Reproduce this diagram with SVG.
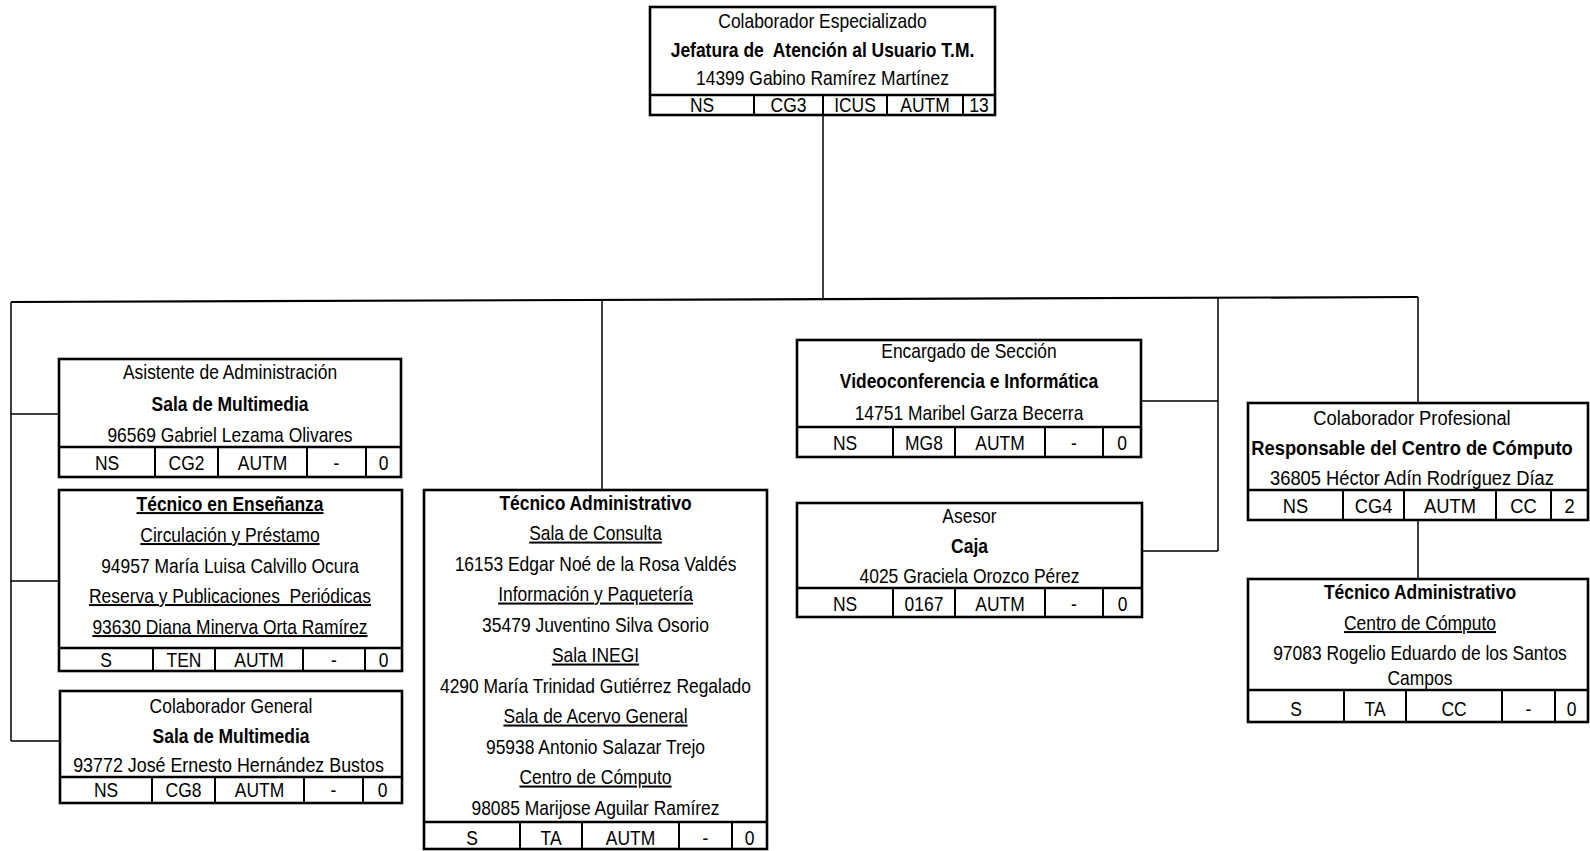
<svg xmlns="http://www.w3.org/2000/svg" width="1590" height="851" viewBox="0 0 1590 851">
<style>
  .box { fill: #fff; stroke: #000; stroke-width: 2.6; }
  .sep { stroke: #000; stroke-width: 2.4; fill: none; }
  .div { stroke: #000; stroke-width: 2; fill: none; }
  .con { stroke: #000; stroke-width: 1.5; fill: none; }
  .main { stroke: #000; stroke-width: 2.2; fill: none; }
  text { font-family: "Liberation Sans", Arial, sans-serif; font-size: 20px; fill: #000; text-anchor: middle;
         transform-box: fill-box; transform-origin: center; transform: scaleX(0.8725); }
  .lg text { font-size: 21px; }
  .b { font-weight: bold; }
  .u { text-decoration: underline; }
  .wide { transform: scaleX(0.893); }
</style>
<rect x="0" y="0" width="1590" height="851" fill="#fff"/>

<g id="connectors">
  <path class="con" d="M823 115 V298"/>
  <path class="main" d="M11 302 L1418 297"/>
  <path class="con" d="M11 302 V741 M11 414 H59 M11 581 H59 M11 741 H60"/>
  <path class="con" d="M602 300 V490"/>
  <path class="con" d="M1218 298 V551 M1141 401 H1218 M1142 551 H1218"/>
  <path class="con" d="M1418 297 V403"/>
  <path class="con" d="M1418 520 V579"/>
</g>

<g id="n-jefatura">
  <rect class="box" x="650" y="7" width="345" height="108"/>
  <path class="sep" d="M650 95 H995"/>
  <path class="div" d="M754 95 V115 M823 95 V115 M887 95 V115 M963 95 V115"/>
  <text x="822.5" y="28">Colaborador Especializado</text>
  <text class="b" x="822.5" y="57" xml:space="preserve">Jefatura de  Atención al Usuario T.M.</text>
  <text x="822.5" y="85">14399 Gabino Ramírez Martínez</text>
  <text x="702" y="112">NS</text>
  <text x="788.5" y="112">CG3</text>
  <text x="855" y="112">ICUS</text>
  <text x="925" y="112">AUTM</text>
  <text x="979" y="112">13</text>
</g>

<g id="n-asistente">
  <rect class="box" x="59" y="359" width="342" height="118"/>
  <path class="sep" d="M59 447 H401"/>
  <path class="div" d="M155 447 V477 M218 447 V477 M307 447 V477 M366 447 V477"/>
  <text x="230" y="379">Asistente de Administración</text>
  <text class="b" x="230" y="411">Sala de Multimedia</text>
  <text x="230" y="442">96569 Gabriel Lezama Olivares</text>
  <text x="107" y="470">NS</text>
  <text x="186.5" y="470">CG2</text>
  <text x="262.5" y="470">AUTM</text>
  <text x="336.5" y="470">-</text>
  <text x="383.5" y="470">0</text>
</g>

<g id="n-tecnico-ensenanza">
  <rect class="box" x="59" y="490" width="343" height="181"/>
  <path class="sep" d="M59 648 H402"/>
  <path class="div" d="M153 648 V671 M215 648 V671 M303 648 V671 M365 648 V671"/>
  <text class="b u" x="230" y="511">Técnico en Enseñanza</text>
  <text class="u" x="230" y="542">Circulación y Préstamo</text>
  <text x="230" y="573">94957 María Luisa Calvillo Ocura</text>
  <text class="u" x="230" y="603" xml:space="preserve">Reserva y Publicaciones  Periódicas</text>
  <text class="u" x="230" y="634">93630 Diana Minerva Orta Ramírez</text>
  <text x="106" y="667">S</text>
  <text x="184" y="667">TEN</text>
  <text x="259" y="667">AUTM</text>
  <text x="334" y="667">-</text>
  <text x="383.5" y="667">0</text>
</g>

<g id="n-colaborador-general">
  <rect class="box" x="60" y="691" width="342" height="112"/>
  <path class="sep" d="M60 777 H402"/>
  <path class="div" d="M152 777 V803 M215 777 V803 M304 777 V803 M363 777 V803"/>
  <text x="231" y="713">Colaborador General</text>
  <text class="b" x="231" y="743">Sala de Multimedia</text>
  <text class="wide" x="228.5" y="772">93772 José Ernesto Hernández Bustos</text>
  <text x="106" y="797">NS</text>
  <text x="183.5" y="797">CG8</text>
  <text x="259.5" y="797">AUTM</text>
  <text x="333.5" y="797">-</text>
  <text x="382.5" y="797">0</text>
</g>

<g id="n-tecnico-admin">
  <rect class="box" x="424" y="490" width="343" height="359"/>
  <path class="sep" d="M424 822 H767"/>
  <path class="div" d="M520 822 V849 M582 822 V849 M679 822 V849 M732 822 V849"/>
  <text class="b" x="595.5" y="510">Técnico Administrativo</text>
  <text class="u" x="595.5" y="540.5">Sala de Consulta</text>
  <text x="595.5" y="571">16153 Edgar Noé de la Rosa Valdés</text>
  <text class="u" x="595.5" y="601.5">Información y Paquetería</text>
  <text x="595.5" y="632">35479 Juventino Silva Osorio</text>
  <text class="u" x="595.5" y="662.5">Sala INEGI</text>
  <text x="595.5" y="693">4290 María Trinidad Gutiérrez Regalado</text>
  <text class="u" x="595.5" y="723.5">Sala de Acervo General</text>
  <text x="595.5" y="754">95938 Antonio Salazar Trejo</text>
  <text class="u" x="595.5" y="784.5">Centro de Cómputo</text>
  <text x="595.5" y="815">98085 Marijose Aguilar Ramírez</text>
  <text x="472" y="845">S</text>
  <text x="551" y="845">TA</text>
  <text x="630.5" y="845">AUTM</text>
  <text x="705.5" y="845">-</text>
  <text x="749.5" y="845">0</text>
</g>

<g id="n-encargado">
  <rect class="box" x="797" y="340" width="344" height="117"/>
  <path class="sep" d="M797 427 H1141"/>
  <path class="div" d="M893 427 V457 M955 427 V457 M1045 427 V457 M1103 427 V457"/>
  <text x="969" y="358">Encargado de Sección</text>
  <text class="b" x="969" y="388">Videoconferencia e Informática</text>
  <text x="969" y="420">14751 Maribel Garza Becerra</text>
  <text x="845" y="450">NS</text>
  <text x="924" y="450">MG8</text>
  <text x="1000" y="450">AUTM</text>
  <text x="1074" y="450">-</text>
  <text x="1122" y="450">0</text>
</g>

<g id="n-asesor">
  <rect class="box" x="797" y="503" width="345" height="114"/>
  <path class="sep" d="M797 588 H1142"/>
  <path class="div" d="M893 588 V617 M955 588 V617 M1045 588 V617 M1103 588 V617"/>
  <text x="969.5" y="523">Asesor</text>
  <text class="b" x="969.5" y="553">Caja</text>
  <text x="969.5" y="583">4025 Graciela Orozco Pérez</text>
  <text x="845" y="611">NS</text>
  <text x="924" y="611">0167</text>
  <text x="1000" y="611">AUTM</text>
  <text x="1074" y="611">-</text>
  <text x="1122.5" y="611">0</text>
</g>

<g id="n-colaborador-profesional" class="lg">
  <rect class="box" x="1248" y="403" width="340" height="117"/>
  <path class="sep" d="M1248 490 H1588"/>
  <path class="div" d="M1343 490 V520 M1404 490 V520 M1496 490 V520 M1551 490 V520"/>
  <text x="1412" y="425">Colaborador Profesional</text>
  <text class="b" x="1412" y="455">Responsable del Centro de Cómputo</text>
  <text x="1412" y="485">36805 Héctor Adín Rodríguez Díaz</text>
  <text x="1295.5" y="513">NS</text>
  <text x="1373.5" y="513">CG4</text>
  <text x="1450" y="513">AUTM</text>
  <text x="1523.5" y="513">CC</text>
  <text x="1569.5" y="513">2</text>
</g>

<g id="n-tecnico-cc">
  <rect class="box" x="1248" y="579" width="340" height="143"/>
  <path class="sep" d="M1248 690 H1588"/>
  <path class="div" d="M1344 690 V722 M1406 690 V722 M1502 690 V722 M1555 690 V722"/>
  <text class="b" x="1420" y="599">Técnico Administrativo</text>
  <text class="u" x="1420" y="630">Centro de Cómputo</text>
  <text x="1420" y="660">97083 Rogelio Eduardo de los Santos</text>
  <text x="1420" y="685">Campos</text>
  <text x="1296" y="716">S</text>
  <text x="1375" y="716">TA</text>
  <text x="1454" y="716">CC</text>
  <text x="1528.5" y="716">-</text>
  <text x="1571.5" y="716">0</text>
</g>
</svg>
